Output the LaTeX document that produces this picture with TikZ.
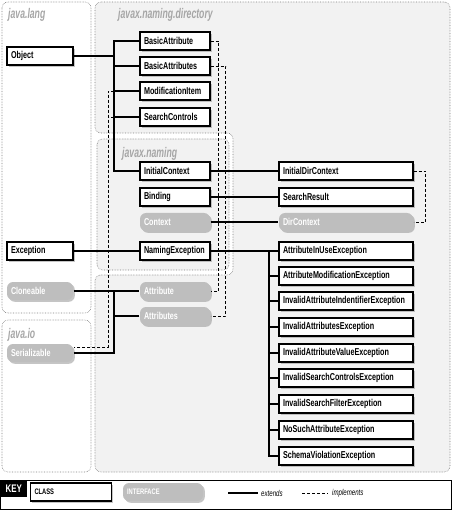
\documentclass[tikz,border=0pt]{standalone}
\usepackage{fontspec}
\setmainfont{Liberation Sans}[FakeStretch=0.72]
\newfontfamily\pkgfont{Liberation Sans}[FakeStretch=0.62]
\usetikzlibrary{shadows}
\definecolor{pkgbg}{HTML}{F2F2F2}
\definecolor{pkgline}{HTML}{7F7F7F}
\definecolor{pkgtitle}{HTML}{A6A6A6}
\definecolor{ifacegray}{HTML}{BEBEBE}
\tikzset{
  cls/.style={draw,line width=1.1pt,fill=white,minimum height=18pt,inner xsep=4pt,inner ysep=0pt,
    text width=62pt,align=left,font=\fontsize{10}{12}\selectfont\bfseries,
    drop shadow={shadow xshift=1.8pt,shadow yshift=-1.8pt,fill=black!45,opacity=0.5}},
  iface/.style={cls,draw=none,fill=ifacegray,text=white,rounded corners=6pt},
  narrow/.style={text width=58pt},
  wide/.style={text width=126pt},
  pkg/.style={draw=pkgline,densely dotted,line width=0.6pt,rounded corners=6pt},
  pkgname/.style={anchor=west,inner sep=0pt,text=pkgtitle,font=\pkgfont\fontsize{14}{16}\selectfont\bfseries\itshape},
  ext/.style={line width=1.1pt},
  impl/.style={line width=0.7pt,dash pattern=on 3pt off 2pt},
  keytext/.style={anchor=west,inner sep=0pt,font=\fontsize{8.5}{10}\selectfont\itshape}
}

\begin{document}
\begin{tikzpicture}[x=1pt,y=-1pt]
  \useasboundingbox (0,0) rectangle (452,510);
  \draw[pkg,fill=pkgbg] (95,2) -- (450,2) -- (450,472) -- (95,472) -- (95,275)
    -- (233,275) -- (233,133) -- (95,133) -- cycle;
  \draw[pkg,fill=pkgbg] (97,139) rectangle (229,270);
  \draw[pkg] (2,2) rectangle (91,313);
  \draw[pkg] (2,320) rectangle (91,472);
  \node[pkgname] (langname) at (8,15) {java.lang};
  \node[pkgname] (dirname) at (118,15) {javax.naming.directory};
  \node[pkgname] (namingname) at (122,154) {javax.naming};
  \node[pkgname] (ioname) at (8,335) {java.io};

  \node[cls,narrow] (Object) at (40,56) {Object};
  \node[cls,narrow] (Exception) at (40,251) {Exception};
  \node[iface,narrow] (Cloneable) at (40,291) {Cloneable};
  \node[iface,narrow] (Serializable) at (40,353) {Serializable};

  \node[cls] (BasicAttribute) at (175,41) {BasicAttribute};
  \node[cls] (BasicAttributes) at (175,66) {BasicAttributes};
  \node[cls] (ModificationItem) at (175,91) {ModificationItem};
  \node[cls] (SearchControls) at (175,117) {SearchControls};
  \node[cls] (InitialContext) at (175,171) {InitialContext};
  \node[cls] (Binding) at (175,197) {Binding};
  \node[iface] (Context) at (175,222) {Context};
  \node[cls] (NamingException) at (175,251) {NamingException};
  \node[iface] (Attribute) at (175,291) {Attribute};
  \node[iface] (Attributes) at (175,316) {Attributes};

  \node[cls,wide] (InitialDirContext) at (346,171) {InitialDirContext};
  \node[cls,wide] (SearchResult) at (346,197) {SearchResult};
  \node[iface,wide] (DirContext) at (346,222) {DirContext};
  \foreach \name/\y in {AttributeInUse/251,AttributeModification/276,InvalidAttributeIndentifier/301,
      InvalidAttributes/327,InvalidAttributeValue/353,InvalidSearchControls/378,
      InvalidSearchFilter/404,NoSuchAttribute/430,SchemaViolation/456}
    \node[cls,wide] (\name) at (346,\y) {\name Exception};

  \coordinate (objTrunk) at (114,171);
  \draw[ext] (Object.east) -- (Object.east -| objTrunk);
  \draw[ext] (BasicAttribute.west) -| (objTrunk) -- (InitialContext.west);
  \foreach \n in {BasicAttributes,ModificationItem,SearchControls}
    \draw[ext] (\n.west) -- (\n.west -| objTrunk);
  \draw[ext] (InitialContext) -- (InitialDirContext);
  \draw[ext] (Binding) -- (SearchResult);
  \draw[ext] (Context) -- (DirContext);
  \draw[ext] (Exception) -- (NamingException);

  \coordinate (excTrunk) at (269,456);
  \draw[ext] (NamingException.east) -- (AttributeInUse.west);
  \draw[ext] (AttributeInUse.west -| excTrunk) -- (excTrunk) -- (SchemaViolation.west);
  \foreach \n in {AttributeModification,InvalidAttributeIndentifier,InvalidAttributes,
      InvalidAttributeValue,InvalidSearchControls,InvalidSearchFilter,NoSuchAttribute}
    \draw[ext] (\n.west) -- (\n.west -| excTrunk);

  \coordinate (attTrunk) at (114,291);
  \draw[ext] (Cloneable) -- (Attribute);
  \draw[ext] (Serializable.east) -| (attTrunk);
  \draw[ext] (Attributes.west) -- (Attributes.west -| attTrunk);

  \coordinate (serTrunk) at (108,347);
  \draw[impl] (ModificationItem.west) -| (serTrunk) -- (Serializable.east |- serTrunk);
  \draw[impl] (SearchControls.west) -- (SearchControls.west -| serTrunk);
  \draw[impl] (BasicAttribute.east) -- ++(8,0) |- (Attribute.east);
  \draw[impl] (BasicAttributes.east) -- ++(15,0) |- (Attributes.east);
  \draw[impl] (InitialDirContext.east) -- ++(12,0) |- (DirContext.east);

  \draw[line width=0.8pt] (0.5,480) rectangle (451.5,509.5);
  \node[fill=black,text=white,anchor=north west,minimum width=27pt,minimum height=17pt,
    inner sep=0pt,font=\fontsize{11}{13}\selectfont\bfseries] (keylabel) at (0,480) {KEY};
  \node[cls,text width=73pt,font=\fontsize{8}{9}\selectfont\bfseries] (keyclass) at (71,492) {CLASS};
  \node[iface,text width=72pt,font=\fontsize{8}{9}\selectfont\bfseries] (keyiface) at (163,492) {INTERFACE};
  \coordinate (extA) at (228,493);
  \coordinate (extB) at (258,493);
  \draw[ext] (extA) -- (extB);
  \node[keytext] (extlabel) at (261,493) {extends};
  \coordinate (implA) at (302,493);
  \coordinate (implB) at (328,493);
  \draw[impl] (implA) -- (implB);
  \node[keytext] (impllabel) at (332,493) {implements};
\end{tikzpicture}
\end{document}
